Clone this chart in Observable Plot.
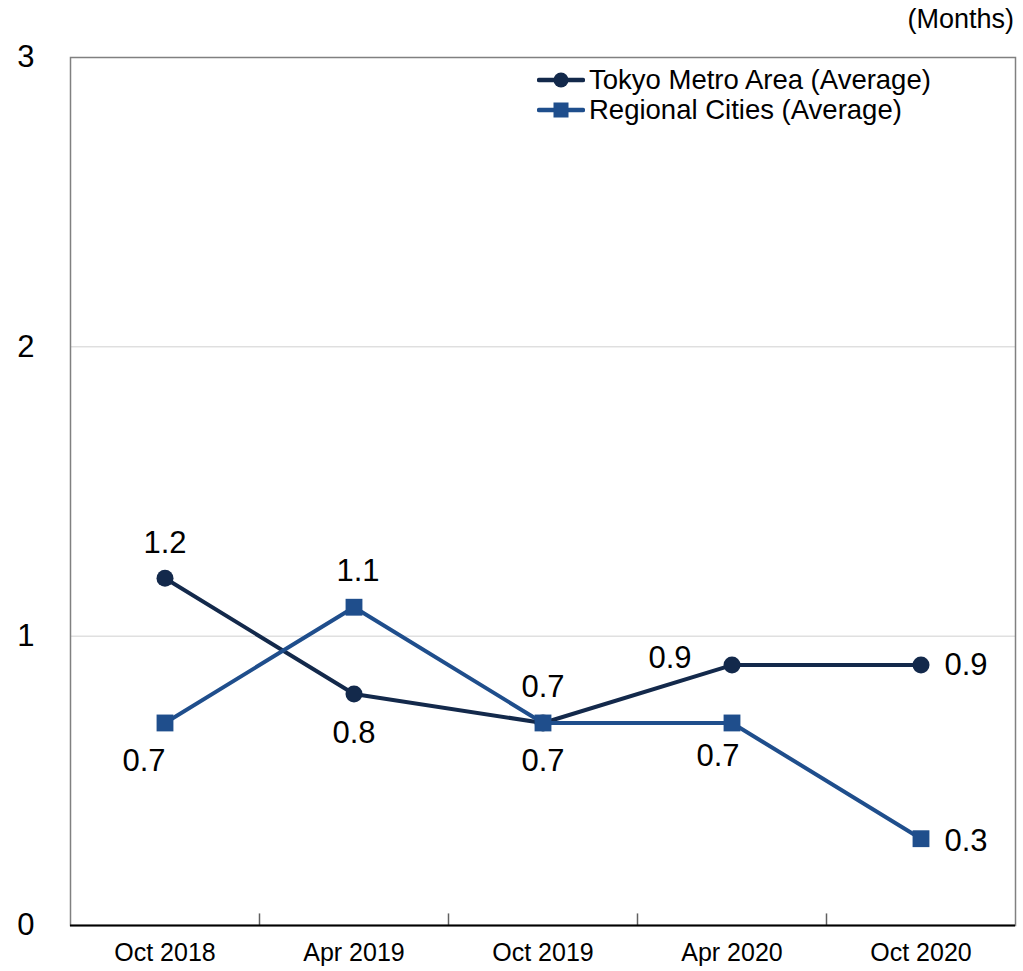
<!DOCTYPE html>
<html>
<head>
<meta charset="utf-8">
<script src="https://cdn.jsdelivr.net/npm/d3@7"></script>
<script src="https://cdn.jsdelivr.net/npm/@observablehq/plot@0.6"></script>
<style>
  html, body { margin: 0; padding: 0; background: #fff; }
  #wrap { position: relative; width: 1023px; height: 971px; font-family: Arial, "Liberation Sans", sans-serif; }
  #unit { position: absolute; right: 9px; top: 4px; font-size: 27px; color: #000; }
  #legend { position: absolute; left: 537px; top: 65px; font-size: 27.5px; color: #000; }
  #legend .row { display: flex; align-items: center; height: 30px; }
  #legend svg { margin-right: 4px; }
</style>
</head>
<body>
<div id="wrap">
  <div id="chart"></div>
  <div id="unit">(Months)</div>
  <div id="legend"></div>
</div>
<script>
const categories = ["Oct 2018", "Apr 2019", "Oct 2019", "Apr 2020", "Oct 2020"];
const tokyoValues = [1.2, 0.8, 0.7, 0.9, 0.9];
const regionalValues = [0.7, 1.1, 0.7, 0.7, 0.3];
const seriesNames = ["Tokyo Metro Area (Average)", "Regional Cities (Average)"];
const yTicks = [0, 1, 2, 3];

const tokyoColor = "#13294b";
const regionalColor = "#1f4e8c";

const tokyo = categories.map((c, i) => ({cat: c, v: tokyoValues[i], i}));
const regional = categories.map((c, i) => ({cat: c, v: regionalValues[i], i}));

const fmt = d => d.v.toFixed(1);
const lab = (data, idx, dx, dy) => Plot.text(data.filter(d => d.i === idx), {
  x: "cat", y: "v", text: fmt, dx, dy, fontSize: 31, fill: "#000"
});

const chart = Plot.plot({
  width: 1023,
  height: 971,
  marginLeft: 70,
  marginRight: 8,
  marginTop: 57,
  marginBottom: 46,
  style: {fontFamily: "Arial, 'Liberation Sans', sans-serif", background: "#fff"},
  x: {type: "band", domain: categories, padding: 0, label: null},
  y: {domain: [0, 3], label: null},
  marks: [
    Plot.ruleY([1, 2], {stroke: "#d0d0d0", strokeWidth: 1}),
    Plot.frame({stroke: "#808080", strokeWidth: 1.5}),
    Plot.axisY({ticks: yTicks, tickSize: 0, tickPadding: 36, fontSize: 31, tickFormat: d3.format("d"), label: null}),
    Plot.axisX({tickSize: 0, tickPadding: 18, fontSize: 25, label: null}),
    Plot.ruleX(categories.slice(1), {
      x: d => d, y1: 0, y2: 0.04, stroke: "#606060", strokeWidth: 1.5, dx: -94.5
    }),
    Plot.ruleY([0], {stroke: "#000", strokeWidth: 2}),
    Plot.line(tokyo, {x: "cat", y: "v", stroke: tokyoColor, strokeWidth: 4}),
    Plot.dot(tokyo, {x: "cat", y: "v", r: 8.5, fill: tokyoColor, symbol: "circle"}),
    Plot.line(regional, {x: "cat", y: "v", stroke: regionalColor, strokeWidth: 4}),
    Plot.dot(regional, {x: "cat", y: "v", r: 9.5, fill: regionalColor, symbol: "square"}),
    lab(tokyo, 0, 0, -35),
    lab(tokyo, 1, 0, 39),
    lab(tokyo, 2, 0, -36),
    lab(tokyo, 3, -62, -7),
    lab(tokyo, 4, 45, 0),
    lab(regional, 0, -21, 38),
    lab(regional, 1, 4, -36),
    lab(regional, 2, 0, 38),
    lab(regional, 3, -14, 33),
    lab(regional, 4, 45, 2)
  ]
});
document.getElementById("chart").appendChild(chart);

// legend
const legend = d3.select("#legend");
[[seriesNames[0], tokyoColor, "circle"], [seriesNames[1], regionalColor, "square"]].forEach(([name, color, shape]) => {
  const row = legend.append("div").attr("class", "row");
  const s = row.append("svg").attr("width", 48).attr("height", 20);
  s.append("line").attr("x1", 2).attr("x2", 46).attr("y1", 10).attr("y2", 10)
    .attr("stroke", color).attr("stroke-width", 4.5).attr("stroke-linecap", "round");
  if (shape === "circle") s.append("circle").attr("cx", 24).attr("cy", 10).attr("r", 7.5).attr("fill", color);
  else s.append("rect").attr("x", 16.5).attr("y", 2.5).attr("width", 15).attr("height", 15).attr("fill", color);
  row.append("span").text(name);
});
</script>
</body>
</html>
